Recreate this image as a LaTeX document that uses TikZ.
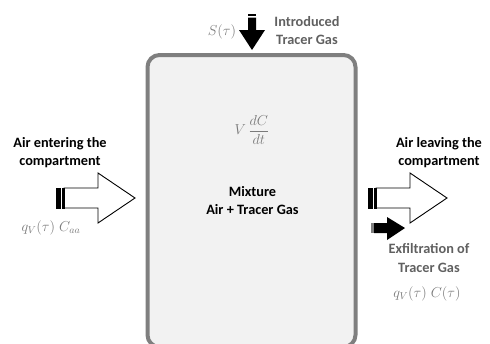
\documentclass[tikz,border=0pt]{standalone}
\usepackage[no-math]{fontspec}
\setmainfont{Carlito}
\definecolor{boxfill}{HTML}{F2F2F2}
\definecolor{boxline}{HTML}{7F7F7F}
\definecolor{labelgray}{HTML}{606060}
\definecolor{mathgray}{HTML}{7A7A7A}
\tikzset{
  title/.style={font=\bfseries\fontsize{14.3}{18}\selectfont, align=center, text=black, inner sep=0pt},
  graytitle/.style={font=\bfseries\fontsize{14.3}{18.5}\selectfont, align=center, text=labelgray, inner sep=0pt},
  formula/.style={font=\fontsize{14}{16}\selectfont, text=mathgray, inner sep=0pt},
  hollow/.style={draw=black, line width=0.9pt, fill=white, line join=miter},
  solidarrow/.style={fill=black, draw=none},
}
\begin{document}
\begin{tikzpicture}[x=1pt,y=-1pt]
\useasboundingbox (0,0) rectangle (490,343);

% mixing compartment
\node[draw=boxline, fill=boxfill, line width=4pt, rounded corners=12pt,
      minimum width=208pt, minimum height=292pt, inner sep=0pt, anchor=north west]
      (room) at (145.5,53) {};

% inflow of air (hollow arrow, striped tail)
\path[hollow] (64,188) -- (98,188) -- (98,173) -- (135,198) -- (98,223) -- (98,208) -- (64,208) -- cycle;
\fill[black] (56,187.5) rectangle (60.5,208.5);
\fill[black] (62,187.5) rectangle (64.5,208.5);
\coordinate (inTip) at (135,198);

% outflow of air
\path[hollow] (376,188) -- (410,188) -- (410,173) -- (447,198) -- (410,223) -- (410,208) -- (376,208) -- cycle;
\fill[black] (368,187.5) rectangle (372.5,208.5);
\fill[black] (374,187.5) rectangle (376.5,208.5);
\coordinate (outTip) at (447,198);

% exfiltration of tracer gas
\fill[gray] (371,223) rectangle (373.5,233);
\path[solidarrow] (374,223) -- (387,223) -- (387,217) -- (405,228) -- (387,240) -- (387,233) -- (374,233) -- cycle;
\coordinate (exTip) at (405,228);

% injected tracer gas
\fill[black] (248,13.5) rectangle (256,15.5);
\path[solidarrow] (248,17.5) -- (256,17.5) -- (256,30) -- (265,30) -- (252,50) -- (239,30) -- (248,30) -- cycle;
\coordinate (inject) at (252,50);

% labels
\node[title] (inLbl) at (60,153) {Air entering the\\compartment};
\node[title] (outLbl) at (439,153) {Air leaving the\\compartment};
\node[title] (mix) at (252.5,201) {Mixture\\Air + Tracer Gas};
\node[graytitle] (injLbl) at (307,30.5) {Introduced\\Tracer Gas};
\node[graytitle] (exLbl) at (429,258) {Exfiltration of\\Tracer Gas};

\node[formula] (src) at (222,32) {$S(\tau)$};
\node[formula] (storage) at (252,130) {$V\,\displaystyle\frac{dC}{dt}$};
\node[formula] (qin) at (51,228) {$q_V(\tau)\;C_{aa}$};
\node[formula] (qout) at (427,294) {$q_V(\tau)\;C(\tau)$};
\end{tikzpicture}
\end{document}
